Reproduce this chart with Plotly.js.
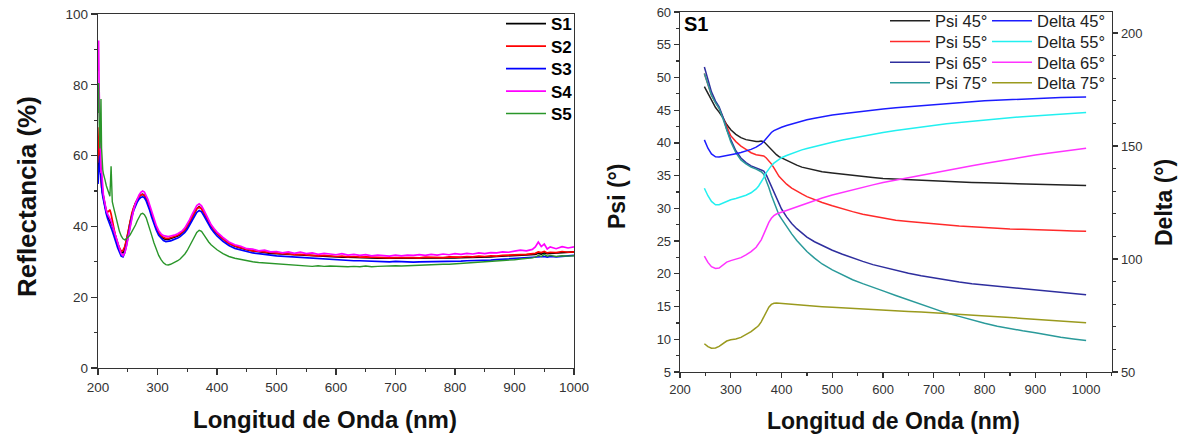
<!DOCTYPE html>
<html>
<head>
<meta charset="utf-8">
<script src="https://cdn.plot.ly/plotly-3.0.1.min.js"></script>
<style>html,body{margin:0;padding:0;background:#fff;}#chart{width:1178px;height:436px;}</style>
</head>
<body>
<div id="chart"></div>
<script>
// ---------- Left panel: reflectance spectra ----------
const wavelengthR = [
  200,201,202,203,204,205,206,207,208,209,
  210,212,214,216,218,220,222,224,226,228,
  230,233,236,239,242,245,248,251,254,257,
  260,263,266,269,272,275,278,281,284,287,
  290,294,298,302,306,310,314,318,322,326,
  330,334,338,342,346,350,354,358,362,366,
  370,374,378,382,386,390,395,400,410,420,
  430,440,450,460,470,480,490,500,510,520,
  530,540,550,560,570,580,590,600,610,620,
  630,640,650,660,670,680,690,700,710,720,
  730,740,750,760,770,780,790,800,810,820,
  830,840,850,860,870,880,890,900,910,920,
  930,935,940,945,950,955,960,970,980,990,
  1000];
const reflS1 = [
  55,58,60,62,57,54,52,51,49.5,48.5,
  47,45.5,44,43,42.3,41.8,41.2,40.2,39.2,38.0,
  36.6,35.0,33.6,32.6,32.6,33.8,35.9,38.5,41.2,43.6,
  45.2,46.6,47.6,48.4,48.9,49.1,48.8,47.9,46.7,45.2,
  43.4,41.3,39.5,38.1,37.1,36.6,36.3,36.3,36.5,36.8,
  37.0,37.3,37.7,38.2,38.9,39.9,41.1,42.5,43.9,45.0,
  45.6,45.0,43.9,42.6,41.3,40.1,39.0,38.0,36.5,35.2,
  34.4,33.8,33.4,33.1,32.8,32.6,32.4,32.3,32.2,32.0,
  31.9,31.8,31.8,31.6,31.6,31.5,31.4,31.4,31.3,31.3,
  31.2,31.2,31.1,31.1,31.0,31.0,31.0,30.9,31.0,30.9,
  31.0,30.9,31.0,31.0,31.1,31.0,31.1,31.1,31.2,31.2,
  31.3,31.3,31.4,31.4,31.5,31.6,31.6,31.7,31.8,31.9,
  32.0,32.1,32.4,32.2,32.5,32.3,32.4,32.5,32.6,32.7,
  32.8];
const reflS2 = [
  58,62,68,66,57,53,51,50,49,48,
  47,45.5,44.5,44.0,44.3,44.7,43.5,41.5,39.5,38.0,
  36.7,35.0,33.8,33.0,33.2,34.3,36.3,38.8,41.5,43.8,
  45.3,46.6,47.6,48.4,48.9,49.0,48.7,47.8,46.6,45.1,
  43.4,41.3,39.6,38.3,37.4,36.9,36.6,36.6,36.8,37.0,
  37.2,37.5,37.9,38.4,39.1,40.0,41.2,42.6,43.9,45.0,
  45.4,45.0,43.9,42.6,41.3,40.2,39.0,38.0,36.5,35.2,
  34.5,33.9,33.5,33.1,32.9,32.7,32.5,32.4,32.3,32.2,
  32.0,32.1,31.9,31.8,31.7,31.8,31.6,31.5,31.6,31.4,
  31.5,31.3,31.4,31.3,31.2,31.3,31.1,31.2,31.1,31.2,
  31.2,31.1,31.3,31.2,31.3,31.2,31.4,31.3,31.3,31.5,
  31.4,31.6,31.5,31.7,31.6,31.8,31.8,31.9,32.0,32.1,
  32.3,32.4,32.8,32.6,32.9,32.5,32.7,32.6,32.9,32.7,
  32.8];
const reflS3 = [
  52,56,59,60,56,53,51,49.5,48.5,47.5,
  46.5,45,43.5,42.3,41.2,40.4,39.6,38.7,37.8,36.8,
  35.6,34.0,32.6,31.6,31.4,32.6,34.8,37.5,40.3,42.8,
  44.5,45.9,46.9,47.7,48.2,48.4,48.1,47.2,46.0,44.5,
  42.7,40.6,38.9,37.5,36.6,36.0,35.7,35.7,35.9,36.2,
  36.4,36.7,37.1,37.6,38.3,39.2,40.4,41.7,43.0,44.0,
  44.5,44.1,43.0,41.8,40.5,39.4,38.3,37.3,35.8,34.6,
  33.8,33.3,32.9,32.5,32.3,32.0,31.9,31.7,31.6,31.4,
  31.3,31.1,31.2,30.9,30.8,30.7,30.6,30.5,30.5,30.4,
  30.3,30.3,30.2,30.2,30.1,30.1,30.0,30.1,30.0,30.0,
  29.9,30.0,30.0,30.1,30.0,30.1,30.1,30.2,30.2,30.3,
  30.3,30.4,30.5,30.5,30.6,30.7,30.8,30.8,30.9,31.0,
  31.1,31.2,31.4,31.3,31.5,31.3,31.5,31.4,31.6,31.7,
  31.8];
const reflS4 = [
  84,92.5,78,65,58,55,56,52,50.5,49,
  48,46,44.5,43.5,43,42.2,41.5,40.5,39.5,38.5,
  37.2,35.5,33.8,32.3,31.7,32.5,34.5,37.2,40,42.8,
  44.8,46.5,47.8,48.9,49.6,50.0,49.7,48.8,47.6,46.0,
  44.3,42.0,40.2,38.8,37.9,37.4,37.2,37.1,37.3,37.4,
  37.6,37.9,38.3,38.8,39.6,40.6,41.9,43.3,44.7,45.9,
  46.4,45.8,44.6,43.2,41.8,40.5,39.4,38.4,36.9,35.6,
  34.8,34.4,33.7,33.6,33.1,33.3,32.8,32.9,32.5,32.8,
  32.4,32.7,32.3,32.5,32.1,32.4,32.2,32.0,32.3,31.9,
  32.1,31.8,32.0,31.7,31.9,31.8,31.6,31.9,31.7,31.9,
  31.8,32.0,31.8,32.1,31.9,32.2,32.0,32.3,32.1,32.4,
  32.2,32.5,32.3,32.6,32.5,32.8,32.7,33.0,33.3,33.1,
  33.5,34.2,35.6,34.3,35.0,33.6,34.2,33.7,34.3,33.9,
  34.2];
const reflS5 = [
  72,80.5,70,62,66,76,62,57,56,55,
  54.5,53,51.5,50.5,49.5,48.5,57.0,47.0,45.5,44.0,
  42.5,40.3,38.6,37.3,36.5,36.2,36.5,37.0,37.6,38.4,
  39.3,40.4,41.6,42.7,43.5,43.7,43.3,42.4,41.0,39.3,
  37.6,35.4,33.4,31.8,30.6,29.7,29.2,29.1,29.3,29.6,
  29.9,30.3,30.8,31.4,32.2,33.2,34.5,35.9,37.2,38.3,
  38.9,38.6,37.6,36.5,35.6,34.8,34.0,33.4,32.3,31.5,
  31.0,30.6,30.2,30.0,29.8,29.7,29.5,29.4,29.3,29.2,
  29.1,29.0,28.9,28.7,28.9,28.7,28.8,28.7,28.8,28.6,
  28.7,28.6,28.8,28.6,28.7,28.8,28.7,28.9,28.8,28.9,
  28.9,29.0,29.1,29.1,29.2,29.3,29.3,29.4,29.5,29.6,
  29.7,29.8,30.0,30.1,30.2,30.4,30.5,30.6,30.8,30.9,
  31.1,31.3,31.8,31.5,32.1,31.6,31.8,31.5,31.7,31.6,
  31.7];
const sampleNames = ['S1','S2','S3','S4','S5'];
const sampleColors = ['#000000','#ff0000','#0000ff','#ff00ff','#2a962a'];
const sampleWidths = [1.7,1.7,1.7,1.7,1.4];

// ---------- Right panel: ellipsometry S1 ----------
const wavelengthE = [248,255,262,270,277,285,292,300,310,320,330,340,350,355,360,365,370,375,380,385,390,395,400,
  410,420,430,440,450,465,480,500,520,540,560,580,600,625,650,675,700,725,750,775,800,825,850,875,900,925,950,975,1000];
const psi45 = [48.6,47.5,46.4,45.4,44.7,43.8,42.8,42.0,41.3,40.8,40.5,40.3,40.2,40.2,40.3,40.2,39.8,39.4,38.9,38.5,38.2,37.9,37.7,
  37.3,36.9,36.6,36.3,36.1,35.8,35.6,35.4,35.2,35.0,34.8,34.7,34.55,34.45,34.35,34.25,34.15,34.05,34.0,33.95,33.9,33.85,33.8,33.7,33.7,33.65,33.6,33.55,33.5];
const psi55 = [50.6,48.9,47.3,46.2,45.3,43.8,42.4,41.1,40.2,39.5,39.0,38.5,38.2,38.1,38.1,38.0,37.7,37.3,36.8,36.2,35.5,34.9,34.5,
  33.7,33.1,32.6,32.2,31.8,31.3,30.9,30.4,29.9,29.5,29.1,28.8,28.5,28.2,28.0,27.8,27.6,27.45,27.3,27.2,27.05,26.95,26.85,26.8,26.7,26.65,26.6,26.55,26.5];
const psi65 = [51.6,49.6,47.8,46.4,45.5,43.9,42.1,40.5,38.8,37.7,37.0,36.5,36.2,36.0,35.9,35.7,35.1,34.2,33.3,32.4,31.5,30.7,29.9,
  28.7,27.7,26.9,26.2,25.6,24.9,24.3,23.6,23.0,22.4,21.9,21.4,21.0,20.5,20.1,19.7,19.35,19.0,18.75,18.5,18.3,18.1,17.9,17.7,17.5,17.3,17.1,16.95,16.8];
const psi75 = [50.6,48.8,47.3,46.1,45.3,43.6,41.9,40.2,38.5,37.4,36.8,36.3,36.0,35.8,35.6,35.2,34.3,33.2,32.0,30.9,29.9,29.0,28.4,
  27.2,26.1,25.1,24.2,23.4,22.4,21.5,20.6,19.8,19.1,18.5,17.9,17.4,16.7,16.0,15.3,14.6,14.0,13.5,12.95,12.45,12.0,11.6,11.3,11.0,10.6,10.3,10.05,9.8];
const delta45 = [152.7,149.0,146.5,145.2,145.1,145.4,145.8,146.2,146.6,147.1,147.7,148.5,149.5,150.1,150.9,152.0,153.4,154.8,156.0,156.8,157.4,157.9,158.3,
  159.1,159.8,160.5,161.1,161.6,162.3,163.0,163.7,164.3,164.9,165.5,166.0,166.4,166.9,167.4,167.9,168.4,168.8,169.2,169.6,170.0,170.3,170.6,170.9,171.1,171.3,171.5,171.6,171.7];
const delta55 = [131.3,128.0,125.5,124.0,124.0,124.8,125.6,126.2,126.8,127.5,128.2,129.3,131.0,132.3,134.0,136.0,138.2,140.0,141.3,142.4,143.3,144.1,144.8,
  145.8,146.7,147.5,148.3,148.9,149.8,150.7,151.7,152.7,153.6,154.5,155.3,156.0,156.9,157.7,158.5,159.2,159.8,160.4,161.0,161.5,162.0,162.5,163.0,163.4,163.8,164.1,164.5,164.8];
const delta65 = [101.3,98.5,96.6,95.8,96.0,97.2,98.6,99.3,99.8,100.6,101.8,103.3,105.2,106.6,108.5,111.0,113.8,116.2,118.0,119.2,119.9,120.3,120.7,
  121.5,122.3,123.1,123.9,124.7,125.8,127.0,128.3,129.5,130.6,131.8,132.8,133.9,135.0,136.1,137.2,138.3,139.3,140.3,141.3,142.3,143.3,144.3,145.2,146.0,146.8,147.6,148.3,149.0];
const delta75 = [62.5,61.2,60.5,60.6,61.3,62.5,63.7,64.3,64.6,65.3,66.5,67.9,69.6,70.6,72.2,74.4,76.7,78.7,79.9,80.4,80.5,80.4,80.2,
  80.0,79.9,79.7,79.6,79.4,79.2,78.9,78.6,78.4,78.1,77.8,77.6,77.4,77.1,76.8,76.5,76.2,75.9,75.6,75.2,74.8,74.5,74.1,73.7,73.3,73.0,72.5,72.3,71.8];
const psiNames = ['Psi 45°','Psi 55°','Psi 65°','Psi 75°'];
const deltaNames = ['Delta 45°','Delta 55°','Delta 65°','Delta 75°'];
const psiColors = ['#222222','#ff2a2a','#2e2e9e','#2a9a9a'];
const deltaColors = ['#1c1cff','#22f0f0','#ff33ff','#9a9a1e'];

const W = 1178, H = 436;
const px = v => v / W;
const py = v => (H - v) / H;
const FONT = 'Arial, "Liberation Sans", sans-serif';

// one legend per row so that row spacing matches the original figure
const legendRows = [];
let legendCount = 0;
function nextLegend(cfg) {
  legendCount += 1;
  const key = legendCount === 1 ? 'legend' : 'legend' + legendCount;
  legendRows.push([key, cfg]);
  return key;
}
const leftLegendRowsY = [24, 46.5, 69, 91.5, 114];
const rightLegendRowsY = [21, 41.7, 62.4, 83];
const leftLegendFont = {family: FONT, size: 17, weight: 'bold', color: '#000'};
const rightLegendFont = {family: FONT, size: 16.5, color: '#222'};

const traces = [];
[reflS1, reflS2, reflS3, reflS4, reflS5].forEach((ys, i) => {
  const lg = nextLegend({x: px(501), y: py(leftLegendRowsY[i]), font: leftLegendFont});
  traces.push({x: wavelengthR, y: ys, type: 'scatter', mode: 'lines', name: sampleNames[i],
    line: {color: sampleColors[i], width: sampleWidths[i]}, xaxis: 'x', yaxis: 'y', legend: lg});
});
[psi45, psi55, psi65, psi75].forEach((ys, i) => {
  const lg = nextLegend({x: px(885), y: py(rightLegendRowsY[i]), font: rightLegendFont});
  traces.push({x: wavelengthE, y: ys, type: 'scatter', mode: 'lines', name: psiNames[i],
    line: {color: psiColors[i], width: 1.5}, xaxis: 'x2', yaxis: 'y3', legend: lg});
});
[delta45, delta55, delta65, delta75].forEach((ys, i) => {
  const lg = nextLegend({x: px(987), y: py(rightLegendRowsY[i]), font: rightLegendFont});
  traces.push({x: wavelengthE, y: ys, type: 'scatter', mode: 'lines', name: deltaNames[i],
    line: {color: deltaColors[i], width: 1.5}, xaxis: 'x2', yaxis: 'y4', legend: lg});
});

const tickFont = {family: FONT, size: 13.5, color: '#333'};
const axBase = {showgrid: false, zeroline: false, showline: true, linecolor: '#333', linewidth: 1.3,
  ticks: 'outside', tickcolor: '#333', tickwidth: 1.2, tickfont: tickFont};

const layout = {
  width: W, height: H, margin: {l: 0, r: 0, t: 0, b: 0},
  paper_bgcolor: '#fff', plot_bgcolor: '#fff',
  font: {family: FONT, color: '#222'},
  xaxis: Object.assign({}, axBase, {domain: [px(98), px(574)], range: [200, 1000], dtick: 100, tick0: 0,
    ticklen: 6, mirror: true, anchor: 'y', minor: {dtick: 50, ticklen: 3, ticks: 'outside', tickcolor: '#333'}}),
  yaxis: Object.assign({}, axBase, {domain: [py(368), py(14)], range: [0, 100], dtick: 20, tick0: 0,
    ticklen: 6, mirror: true, anchor: 'x', minor: {dtick: 10, ticklen: 3, ticks: 'outside', tickcolor: '#333'}}),
  xaxis2: Object.assign({}, axBase, {domain: [px(680), px(1112)], range: [200, 1051], dtick: 100, tick0: 0,
    ticklen: 5, mirror: true, anchor: 'y3', tickfont: Object.assign({}, tickFont, {size: 13}),
    minor: {dtick: 50, ticklen: 3, ticks: 'outside', tickcolor: '#333'}}),
  yaxis3: Object.assign({}, axBase, {domain: [py(372), py(12)], range: [5, 60], dtick: 5, tick0: 0,
    ticklen: 5, anchor: 'x2', tickfont: Object.assign({}, tickFont, {size: 13}),
    minor: {dtick: 2.5, ticklen: 3, ticks: 'outside', tickcolor: '#333'}}),
  yaxis4: Object.assign({}, axBase, {overlaying: 'y3', side: 'right', anchor: 'x2', range: [50, 209.3],
    dtick: 50, tick0: 0, ticklen: 5, tickfont: Object.assign({}, tickFont, {size: 13}),
    minor: {dtick: 10, ticklen: 3, ticks: 'outside', tickcolor: '#333'}}),
  showlegend: true,
  annotations: [
    {text: 'Reflectancia (%)', xref: 'paper', yref: 'paper', x: px(27), y: py(197), textangle: -90,
      showarrow: false, xanchor: 'center', yanchor: 'middle', font: {family: FONT, size: 26, weight: 'bold', color: '#111'}},
    {text: 'Longitud de Onda (nm)', xref: 'paper', yref: 'paper', x: px(325), y: py(419),
      showarrow: false, xanchor: 'center', yanchor: 'middle', font: {family: FONT, size: 24, weight: 'bold', color: '#111'}},
    {text: 'Psi (°)', xref: 'paper', yref: 'paper', x: px(617), y: py(197), textangle: -90,
      showarrow: false, xanchor: 'center', yanchor: 'middle', font: {family: FONT, size: 23, weight: 'bold', color: '#111'}},
    {text: 'Delta (°)', xref: 'paper', yref: 'paper', x: px(1164), y: py(203), textangle: -90,
      showarrow: false, xanchor: 'center', yanchor: 'middle', font: {family: FONT, size: 23, weight: 'bold', color: '#111'}},
    {text: 'Longitud de Onda (nm)', xref: 'paper', yref: 'paper', x: px(894), y: py(421),
      showarrow: false, xanchor: 'center', yanchor: 'middle', font: {family: FONT, size: 23, weight: 'bold', color: '#111'}},
    {text: 'S1', xref: 'paper', yref: 'paper', x: px(682), y: py(24),
      showarrow: false, xanchor: 'left', yanchor: 'middle', font: {family: FONT, size: 20, weight: 'bold', color: '#000'}}
  ]
};
legendRows.forEach(([key, cfg]) => {
  layout[key] = {x: cfg.x, y: cfg.y, xanchor: 'left', yanchor: 'middle', bgcolor: 'rgba(0,0,0,0)',
    borderwidth: 0, itemwidth: 40, tracegroupgap: 0, font: cfg.font};
});

Plotly.newPlot('chart', traces, layout, {displayModeBar: false, staticPlot: true});
</script>
</body>
</html>
